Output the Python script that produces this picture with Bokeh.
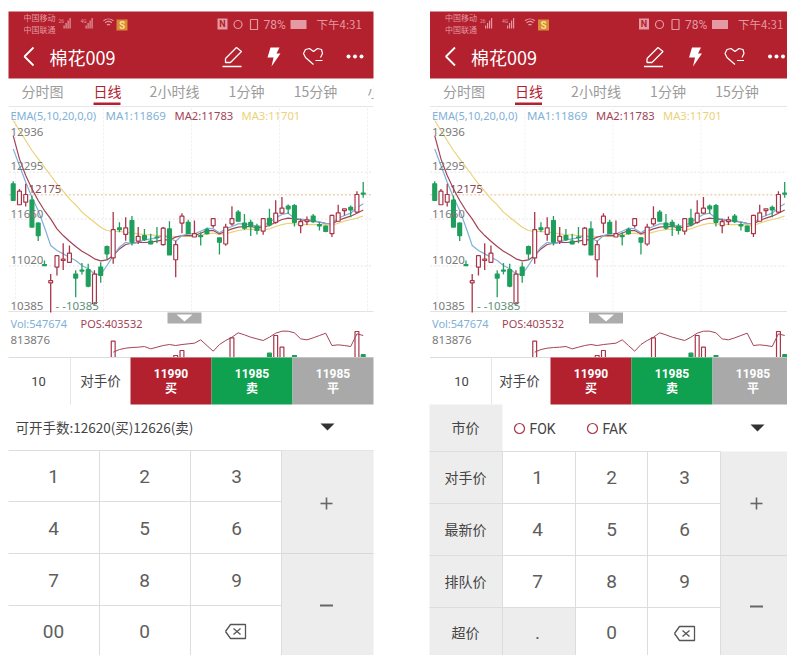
from bokeh.plotting import figure
from bokeh.models import Range1d, ColumnDataSource
from bokeh.core.properties import value
from bokeh.embed import file_html
from bokeh.resources import INLINE

# ---------------- data ----------------
highs = [12175,12070,12140,11980,11615,11095,10910,11160,11330,11300,10960,11060,11050,10960,11070,11300,11755,11615,11685,11700,
         11550,11525,11460,11550,11550,11630,11365,11740,11650,11640,11480,11540,11670,11405,11595,11835,11785,11730,11650,11595,
         11665,11800,11915,11960,11860,11865,11665,11695,11730,11615,11570,11720,11855,11800,11845,12040,12165]
lows = [11915,11855,11830,11550,11360,11020,10385,10890,10965,11070,10595,10905,10730,10495,10790,11115,11050,11480,11365,11300,
        11320,11360,11315,11330,11300,11170,10865,11465,11460,11415,11300,11450,11540,11175,11295,11570,11630,11515,11430,11450,
        11445,11560,11595,11730,11730,11560,11465,11580,11605,11505,11480,11415,11630,11710,11685,11745,11950]
opens = [12140,11855,11890,11920,11605,11040,10790,11005,11095,11070,10910,10965,10970,10505,11005,11285,11130,11540,11450,11640,
         11360,11435,11360,11415,11310,11525,11105,11605,11615,11415,11435,11515,11570,11405,11320,11595,11755,11605,11615,11565,
         11495,11670,11615,11740,11835,11845,11570,11625,11700,11585,11565,11460,11630,11775,11820,11755,12015]
closes = [11915,12040,11995,11550,11435,11025,10820,11160,11115,11195,10855,10950,10745,10910,10890,11185,11515,11515,11540,11345,
          11425,11380,11320,11405,11535,11170,11310,11700,11460,11460,11420,11460,11665,11345,11550,11665,11630,11535,11560,11505,
          11665,11580,11740,11810,11800,11615,11625,11650,11625,11565,11490,11710,11745,11800,11785,11995,12000]
ma1 = [12617,12390,12163,11958,11776,11549,11299,11231,11185,11140,11094,11026,10981,10912,10903,11026,11162,11276,11344,11322,
       11344,11376,11390,11403,11435,11403,11358,11435,11458,11458,11494,11535,11526,11472,11526,11558,11594,11594,11585,11558,
       11572,11617,11676,11722,11740,11672,11658,11649,11640,11622,11594,11603,11672,11708,11740,11813,11869]
ma2 = [12799,12481,12254,12072,11913,11776,11663,11526,11435,11358,11285,11222,11172,11117,11090,11103,11162,11253,11313,11331,
       11340,11340,11344,11358,11376,11376,11413,11435,11435,11435,11467,11503,11503,11458,11494,11526,11549,11558,11558,11540,
       11549,11572,11617,11654,11672,11663,11649,11640,11631,11617,11603,11594,11640,11672,11699,11740,11783]
ma3 = [13004,12868,12731,12595,12481,12367,12254,12140,12040,11935,11854,11754,11685,11617,11549,11504,11490,11490,11481,11472,
       11458,11449,11444,11435,11435,11426,11422,11422,11426,11422,11440,11458,11467,11449,11458,11481,11504,11517,11522,11513,
       11513,11526,11558,11585,11603,11594,11590,11585,11585,11585,11581,11572,11603,11631,11654,11672,11701]
last_price = 11990
grid_prices = [12299, 11660, 11020]

vol_idx = [16, 26, 27, 35, 41, 42, 43, 45, 55, 56]
vol_val = [702700, 538800, 596000, 741700, 565000, 768000, 634000, 538800, 813876, 547674]
vol_up = [True, True, True, True, False, True, True, False, True, False]
pos_idx = list(range(16, 57))
pos_val = [373532,378300,380700,381900,382500,383700,379500,382500,385500,387300,385500,387300,388500,389700,395700,385500,
           375300,387300,394500,400500,408300,404700,400500,397500,394500,400500,407700,411300,411300,408300,397500,395700,
           399300,403500,407700,385500,386700,385500,383700,406500,403532]

tab_labels = ["分时图", "日线", "2小时线", "1分钟", "15分钟"]
legend_labels = ["EMA(5,10,20,0,0)", "MA1:11869", "MA2:11783", "MA3:11701"]
axis_labels = ["12936", "12295", "11660", "11020", "10385"]
quote_labels = [("11990", "买"), ("11985", "卖"), ("11985", "平")]
left_keys = [["1", "2", "3"], ["4", "5", "6"], ["7", "8", "9"], ["00", "0", ""]]
right_keys = [["1", "2", "3"], ["4", "5", "6"], ["7", "8", "9"], [".", "0", ""]]
side_labels = ["市价", "对手价", "最新价", "排队价", "超价"]

# ---------------- colours ----------------
RED = "#B3202E"; GREEN = "#0FA14F"; GREY = "#A9A9A9"; PANEL = "#EDEDED"; LINE = "#DDDDDD"
CRED = "#A8364A"; CGREEN = "#1F9E5C"; C1 = "#7FB0D8"; C2 = "#A34456"; C3 = "#EBD27A"
TXT = "#5E5E5E"; AXT = "#7A7A7A"
CJK = "Noto Sans CJK SC"

# ---------------- figure: the base range is the page's pixel space ----------------
W, H = 787, 655
SLOT = 6.25
X0L, X0R = 12.7, 434.2
p = figure(width=W, height=H, output_backend="svg", toolbar_location=None,
           x_range=Range1d(0, W), y_range=Range1d(H, 0),
           x_axis_location=None, y_axis_location=None, min_border=0,
           extra_x_ranges={
               "xl": Range1d((0 - X0L) / SLOT, (W - X0L) / SLOT),
               "xr": Range1d((0 - X0R) / SLOT, (W - X0R) / SLOT)},
           extra_y_ranges={
               "price": Range1d(12936 - (H - 125) * 13.64, 12936 + 125 * 13.64),
               "vol": Range1d(-(H - 402) * 11463, 402 * 11463),
               "pos": Range1d(403532 - (H - 335) * 1800, 403532 + 335 * 1800)})
p.grid.visible = False
p.outline_line_color = None
p.background_fill_color = "white"
p.border_fill_color = "white"


def box(x0, y0, x1, y1, color):
    p.quad(left=x0, right=x1, top=y0, bottom=y1, fill_color=color, line_color=None)


def ln(xs, ys, color=LINE, w=1.0, dash="solid"):
    p.line(xs, ys, line_color=color, line_width=w, line_dash=dash)


def txt(x, y, s, size=13, color=TXT, align="center", bold=False, font=CJK):
    if font == CJK:
        y -= 1.5
    p.text([x], [y], text=[s], text_font=value(font), text_font_size=f"{size}px", text_color=color,
           text_align=align, text_baseline="middle", text_font_style="bold" if bold else "normal")


def header(dx, right):
    box(8 + dx, 11, right, 78, RED)
    pale = "#E39AA2"
    txt(23 + dx, 18, "中国移动", 8, pale, "left")
    txt(23 + dx, 30, "中国联通", 8, pale, "left")
    txt(58 + dx, 20, "26", 5, pale, "left", font="Roboto")
    txt(80 + dx, 20, "4G", 5, pale, "left", font="Roboto")
    for base in (63, 85):
        for k in range(4):
            h = 3 + k * 2.5
            box(base + k * 2 + dx, 28 - h, base + k * 2 + 1.2 + dx, 28, pale)
    for r in (5, 3.4, 1.6):
        p.arc([108 + dx], [26.5], radius=r * 1.6, start_angle=0.9, end_angle=2.25, line_color=pale, line_width=1.2)
    box(116 + dx, 19, 127 + dx, 30, "#D9893A")
    txt(121.5 + dx, 24.5, "S", 10, "#F7E08A", bold=True, font="Roboto")
    # status right
    box(217 + dx, 18, 227 + dx, 29, pale)
    txt(222 + dx, 23.5, "N", 9, RED, bold=True, font="Roboto")
    p.circle([237.5 + dx], [24], radius=4, fill_color=None, line_color=pale, line_width=1.2)
    box(250 + dx, 19, 257 + dx, 29, RED)
    ln([250 + dx, 257 + dx, 257 + dx, 250 + dx, 250 + dx], [19, 19, 29, 29, 19], pale, 1.2)
    txt(263 + dx, 24, "78%", 12, pale, "left", font="Roboto")
    box(290 + dx, 19.5, 306 + dx, 28.5, pale)
    txt(316 + dx, 25, "下午4:31", 11.5, pale, "left")
    # title row
    ln([33 + dx, 24 + dx, 33 + dx], [47, 56, 65], "white", 1.8)
    txt(49 + dx, 58, "棉花009", 18, "white", "left")
    # pencil
    ln([225 + dx, 236 + dx, 241 + dx, 230 + dx, 225 + dx, 225 + dx], [58, 47, 51, 62, 62, 58], "white", 1.3)
    ln([222 + dx, 241 + dx], [66, 66], "white", 1.6)
    # bolt
    p.patch([x + dx for x in (270, 279, 276, 280, 271, 273, 267)],
            [47, 47, 53, 53, 66, 57, 57], fill_color="white", line_color=None)
    # heart
    ln([x + dx for x in (313, 305, 303, 305, 309, 313, 317, 321, 322, 320)],
       [64, 57, 53, 49, 48, 51, 48, 49, 53, 57], "white", 1.2)
    ln([315 + dx, 322 + dx], [60, 60], "white", 1.2)
    p.scatter([348 + dx, 354.5 + dx, 361 + dx], [56, 56, 56], marker="circle", size=4, fill_color="white", line_color=None)
    # tabs
    for s, x in zip(tab_labels, (42, 107, 174, 246, 315)):
        txt(x + dx, 92, s, 14, RED if s == "日线" else "#9B9B9B")
    if dx == 0:
        txt(367 + dx, 92, "小", 14, "#9B9B9B", "left")
        box(373, 80, 429, 106, "white")
    box(93 + dx, 102, 120 + dx, 104.5, RED)
    ln([8 + dx, right], [106, 106], "#E6E6E6")


def chart(dx, right, xr):
    # grid
    for x in (15, 103, 191, 279, 367):
        if x + dx < right:
            ln([x + dx, x + dx], [108, 311], "#EEEEEE", 1, "2 2")
    for g in grid_prices:
        p.line([-0.7, 57.4], [g, g], x_range_name=xr, y_range_name="price", line_color="#E4E4E4", line_width=1, line_dash="2 2")
    p.line([-0.7, 57.4], [last_price, last_price], x_range_name=xr, y_range_name="price",
           line_color="#EBB98A", line_width=1, line_dash="2 2")
    ln([8 + dx, right], [311, 311], "#E3E3E3")
    # moving averages
    idx = list(range(len(closes)))
    for ser, col in ((ma3, C3), (ma2, C2), (ma1, C1)):
        p.line(idx, ser, x_range_name=xr, y_range_name="price", line_color=col, line_width=1.2)
    # candles
    up = [c >= o for o, c in zip(opens, closes)]
    src = ColumnDataSource(dict(
        x=idx, hi=highs, lo=lows,
        top=[max(o, c) for o, c in zip(opens, closes)],
        bot=[min(o, c) for o, c in zip(opens, closes)],
        col=[CRED if u else CGREEN for u in up],
        fill=["white" if u else CGREEN for u in up]))
    p.segment("x", "hi", "x", "lo", source=src, x_range_name=xr, y_range_name="price", line_color="col", line_width=1.3)
    p.vbar(x="x", top="top", bottom="bot", width=0.62, source=src, x_range_name=xr, y_range_name="price",
           line_color="col", fill_color="fill", line_width=1.2)
    # volume and position
    vsrc = ColumnDataSource(dict(x=vol_idx, top=vol_val, bot=[0] * len(vol_val),
                                 col=[CRED if u else CGREEN for u in vol_up],
                                 fill=["white" if u else CGREEN for u in vol_up]))
    p.vbar(x="x", top="top", bottom="bot", width=0.62, source=vsrc, x_range_name=xr, y_range_name="vol",
           line_color="col", fill_color="fill", line_width=1.2)
    p.line(pos_idx, pos_val, x_range_name=xr, y_range_name="pos", line_color=C2, line_width=1)
    # labels
    for i, s in enumerate(legend_labels):
        x = (10, 105, 174, 241)[i]
        txt(x + dx, 115, s, (11, 11.5, 11.2, 11.2)[i], (C1, C1, C2, C3)[i], "left", font="Noto Sans")
    for s, y in zip(axis_labels, (131, 165, 213, 259, 305)):
        txt(10 + dx, y, s, 11.5, AXT, "left", font="Noto Sans")
    txt(28 + dx, 188, "12175", 11.5, "#8A4A5A", "left", font="Noto Sans")
    txt(55 + dx, 305, "- -10385", 11.5, "#5E8F78", "left", font="Noto Sans")
    txt(10 + dx, 323, "Vol:547674", 11, C1, "left", font="Noto Sans")
    txt(80 + dx, 323, "POS:403532", 11, C2, "left", font="Noto Sans")
    txt(10 + dx, 339, "813876", 11.5, AXT, "left", font="Noto Sans")
    box(167 + dx, 312, 201 + dx, 323, "#ACACAC")
    p.patch([176 + dx, 192 + dx, 184 + dx], [314, 314, 321], fill_color="white", line_color=None)


def quote_bar(dx, right, x10, xdj, x0, x1, x2):
    box(8 + dx, 357, right, H, "white")
    ln([8 + dx, right], [357, 357], LINE)
    txt(x10, 381, "10", 13, "#444444", font="Roboto")
    txt(xdj, 381, "对手价", 13.5, "#444444")
    ln([(x10 + xdj) / 2 + 1, (x10 + xdj) / 2 + 1], [357, 404], "#E6E6E6")
    edges = [x0, x1, x2, right]
    for k, (a, b) in enumerate(quote_labels):
        box(edges[k], 357, edges[k + 1], 404, (RED, GREEN, GREY)[k])
        mid = (edges[k] + (edges[k] + 81)) / 2
        txt(mid, 373, a, 12, "white", bold=True, font="Roboto")
        txt(mid, 388, b, 12, "white", bold=True)


def triangle(x, y):
    p.patch([x - 7, x + 7, x], [y - 3, y - 3, y + 4], fill_color="#333333", line_color=None)


def backspace(cx, cy):
    ln([cx - 10, cx - 5, cx + 10, cx + 10, cx - 5, cx - 10], [cy, cy - 7, cy - 7, cy + 7, cy + 7, cy], "#555555", 1.3)
    ln([cx - 2, cx + 5], [cy - 3, cy + 3], "#555555", 1.3)
    ln([cx - 2, cx + 5], [cy + 3, cy - 3], "#555555", 1.3)


def plus_minus(cx, yp, ym):
    ln([cx - 6, cx + 6], [yp, yp], "#666666", 1.6)
    ln([cx, cx], [yp - 6, yp + 6], "#666666", 1.6)
    ln([cx - 6.5, cx + 6.5], [ym, ym], "#666666", 2)


# left phone
header(0, 373)
chart(0, 373, "xl")
quote_bar(0, 373, 38, 100, 130, 211, 292)
txt(15, 428, "可开手数:12620(买)12626(卖)", 13.5, "#444444", "left")
triangle(327, 426)
ln([8, 373], [450, 450], LINE)
box(281, 450, 373, H, PANEL)
for y in (501, 553, 605):
    ln([8, 281], [y, y], LINE)
ln([281, 373], [553, 553], "#D8D8D8")
for x in (99, 190, 281):
    ln([x, x], [450, H], LINE)
for r, row in enumerate(left_keys):
    for c, s in enumerate(row):
        if s:
            txt((53, 144, 236)[c], (476, 528, 580, 631)[r], s, 19, TXT, font="Roboto")
backspace(235, 631)
plus_minus(326, 503, 605)

# right phone
dx = 421.5
header(dx, W)
chart(dx, W, "xr")
quote_bar(dx, W, 461, 519, 550, 631, 712)
box(429, 404, 502, H, PANEL)
box(502, 607, 575, H, PANEL)
box(720, 451, W, H, PANEL)
for y in (451, 503, 555, 607):
    ln([429, 720], [y, y], LINE)
ln([720, W], [555, 555], "#D8D8D8")
for x in (502, 575, 647, 720):
    ln([x, x], [451, H], LINE)
for s, y in zip(side_labels, (428, 478, 530, 582, 633)):
    txt(465, y, s, 14, "#444444")
for r, row in enumerate(right_keys):
    for c, s in enumerate(row):
        if s:
            txt((537, 611, 684)[c], (477, 529, 581, 632)[r], s, 19, TXT, font="Roboto")
backspace(684, 633)
plus_minus(756, 503, 606)
for cx, s, tx in ((519, "FOK", 529), (592, "FAK", 602)):
    p.scatter([cx], [428], marker="circle", size=10, fill_color=None, line_color=CRED, line_width=1.2)
    txt(tx, 428, s, 14, "#444444", "left", font="Roboto")
triangle(757, 427)

open("out.html", "w").write(file_html(p, INLINE))
